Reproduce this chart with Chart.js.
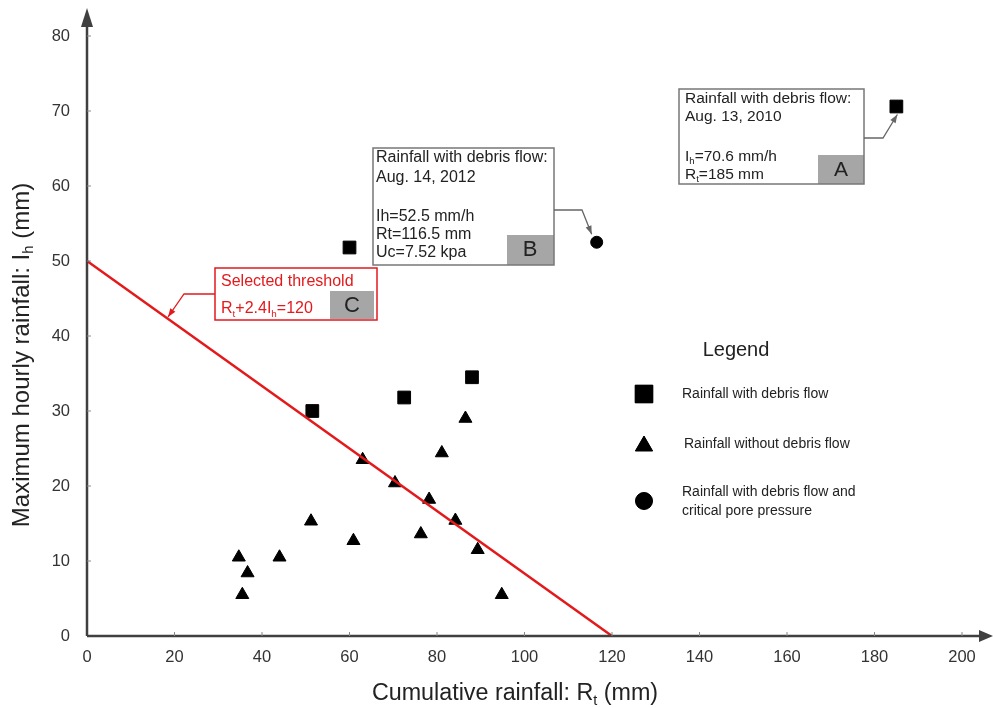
<!DOCTYPE html>
<html>
<head>
<meta charset="utf-8">
<script src="https://cdn.jsdelivr.net/npm/chart.js@4"></script>
<style>
  html, body { margin: 0; padding: 0; background: #fff; }
  #wrap { width: 993px; height: 708px; }
</style>
</head>
<body>
<div id="wrap"><canvas id="myChart"></canvas></div>
<script>
// rainfall events with debris flow (Rt, Ih)
const debrisRt = [185, 60, 51.5, 72.5, 88]
const debrisIh = [70.6, 51.8, 30, 31.8, 34.5]

// rainfall events without debris flow
const noDebrisRt = [86.5, 81.1, 63.0, 70.4, 78.2, 84.2, 51.2, 76.3, 60.9, 89.3, 34.7, 44.0, 36.7, 35.5, 94.8]
const noDebrisIh = [29.0, 24.4, 23.5, 20.4, 18.2, 15.4, 15.3, 13.6, 12.7, 11.5, 10.5, 10.5, 8.4, 5.5, 5.5]

// debris flow with critical pore pressure
const poreRt = [116.5]
const poreIh = [52.5]

// threshold Rt + 2.4Ih = 120
const thresholdRt = [0, 120]
const thresholdIh = [50, 0]

const xTicks = [0, 20, 40, 60, 80, 100, 120, 140, 160, 180, 200]
const yTicks = [0, 10, 20, 30, 40, 50, 60, 70, 80]

function pares(xs, ys){
  return xs.map((x, i) => ({x: x, y: ys[i]}))
}

const FONT = "'Liberation Sans', Arial, sans-serif"
const AXIS = '#404040'
const RED = '#e3191c'

// text with optional subscripts: parts = [[txt, isSub], ...]
function textoRico(ctx, parts, x, y, size, align){
  let total = 0
  parts.forEach(p => {
    ctx.font = (p[1] ? size * 0.62 : size) + 'px ' + FONT
    total += ctx.measureText(p[0]).width
  })
  let cx = align === 'center' ? x - total / 2 : x
  ctx.textAlign = 'left'
  ctx.textBaseline = 'middle'
  parts.forEach(p => {
    ctx.font = (p[1] ? size * 0.62 : size) + 'px ' + FONT
    ctx.fillText(p[0], cx, p[1] ? y + size * 0.3 : y)
    cx += ctx.measureText(p[0]).width
  })
}

function seta(ctx, pts, cor){
  ctx.save()
  ctx.strokeStyle = cor
  ctx.fillStyle = cor
  ctx.lineWidth = 1.3
  ctx.beginPath()
  ctx.moveTo(pts[0][0], pts[0][1])
  for (let i = 1; i < pts.length; i++) ctx.lineTo(pts[i][0], pts[i][1])
  ctx.stroke()
  const a = pts[pts.length - 2], b = pts[pts.length - 1]
  const ang = Math.atan2(b[1] - a[1], b[0] - a[0])
  ctx.beginPath()
  ctx.moveTo(b[0], b[1])
  ctx.lineTo(b[0] - 9 * Math.cos(ang - 0.35), b[1] - 9 * Math.sin(ang - 0.35))
  ctx.lineTo(b[0] - 9 * Math.cos(ang + 0.35), b[1] - 9 * Math.sin(ang + 0.35))
  ctx.closePath()
  ctx.fill()
  ctx.restore()
}

function marcador(ctx, estilo, x, y, r){
  if (Chart.helpers && Chart.helpers.drawPoint){
    ctx.fillStyle = '#000'
    ctx.strokeStyle = '#000'
    ctx.lineWidth = 1
    Chart.helpers.drawPoint(ctx, {pointStyle: estilo, radius: r, rotation: 0, borderWidth: 1}, x, y)
    ctx.fill()
  }
}

const extras = {
  id: 'extras',
  afterDraw(chart){
    const ctx = chart.ctx
    const a = chart.chartArea
    const sx = chart.scales.x, sy = chart.scales.y
    ctx.save()

    // axes with arrows
    ctx.strokeStyle = AXIS
    ctx.fillStyle = AXIS
    ctx.lineWidth = 2.5
    ctx.beginPath()
    ctx.moveTo(a.left, a.bottom)
    ctx.lineTo(982, a.bottom)
    ctx.moveTo(a.left, a.bottom)
    ctx.lineTo(a.left, 22)
    ctx.stroke()
    ctx.beginPath()
    ctx.moveTo(993, a.bottom)
    ctx.lineTo(979, a.bottom - 6)
    ctx.lineTo(979, a.bottom + 6)
    ctx.closePath()
    ctx.fill()
    ctx.beginPath()
    ctx.moveTo(a.left, 8)
    ctx.lineTo(a.left - 6, 27)
    ctx.lineTo(a.left + 6, 27)
    ctx.closePath()
    ctx.fill()

    // small inner tick marks
    ctx.strokeStyle = '#888'
    ctx.lineWidth = 1
    ctx.beginPath()
    xTicks.forEach(v => { const px = sx.getPixelForValue(v); if (v > 0){ ctx.moveTo(px, a.bottom); ctx.lineTo(px, a.bottom - 4) } })
    yTicks.forEach(v => { const py = sy.getPixelForValue(v); if (v > 0){ ctx.moveTo(a.left, py); ctx.lineTo(a.left + 4, py) } })
    ctx.stroke()

    // axis titles
    ctx.fillStyle = '#222'
    textoRico(ctx, [['Cumulative rainfall: R', false], ['t', true], [' (mm)', false]], 515, 694, 23.3, 'center')
    ctx.save()
    ctx.translate(22, 355)
    ctx.rotate(-Math.PI / 2)
    textoRico(ctx, [['Maximum hourly rainfall: I', false], ['h', true], [' (mm)', false]], 0, 0, 24, 'center')
    ctx.restore()

    // box A
    ctx.lineWidth = 1.5
    ctx.strokeStyle = '#777'
    ctx.fillStyle = '#a6a6a6'
    ctx.fillRect(818, 155, 46, 29)
    ctx.strokeRect(679, 89, 185, 95)
    ctx.fillStyle = '#222'
    textoRico(ctx, [['Rainfall with debris flow:', false]], 685, 99, 15.5)
    textoRico(ctx, [['Aug. 13, 2010', false]], 685, 117, 15.5)
    textoRico(ctx, [['I', false], ['h', true], ['=70.6 mm/h', false]], 685, 157, 15.5)
    textoRico(ctx, [['R', false], ['t', true], ['=185 mm', false]], 685, 175, 15.5)
    textoRico(ctx, [['A', false]], 841, 170, 21, 'center')
    const pA = [sx.getPixelForValue(debrisRt[0]), sy.getPixelForValue(debrisIh[0])]
    seta(ctx, [[864, 138], [883, 138], [pA[0] + 1, pA[1] + 8]], '#666')

    // box B
    ctx.lineWidth = 1.5
    ctx.strokeStyle = '#777'
    ctx.fillStyle = '#a6a6a6'
    ctx.fillRect(507, 235, 47, 30)
    ctx.strokeRect(373, 148, 181, 117)
    ctx.fillStyle = '#222'
    textoRico(ctx, [['Rainfall with debris flow:', false]], 376, 158, 16)
    textoRico(ctx, [['Aug. 14, 2012', false]], 376, 178, 16)
    textoRico(ctx, [['Ih=52.5 mm/h', false]], 376, 217, 16)
    textoRico(ctx, [['Rt=116.5 mm', false]], 376, 235, 16)
    textoRico(ctx, [['Uc=7.52 kpa', false]], 376, 253, 16)
    textoRico(ctx, [['B', false]], 530, 250, 22, 'center')
    const pB = [sx.getPixelForValue(poreRt[0]), sy.getPixelForValue(poreIh[0])]
    seta(ctx, [[554, 210], [582, 210], [pB[0] - 5, pB[1] - 8]], '#666')

    // box C
    ctx.strokeStyle = RED
    ctx.fillStyle = '#a6a6a6'
    ctx.fillRect(330, 291, 44, 28)
    ctx.strokeRect(215, 268, 162, 52)
    ctx.fillStyle = RED
    textoRico(ctx, [['Selected threshold', false]], 221, 282, 16)
    textoRico(ctx, [['R', false], ['t', true], ['+2.4I', false], ['h', true], ['=120', false]], 221, 309, 16)
    ctx.fillStyle = '#222'
    textoRico(ctx, [['C', false]], 352, 306, 22, 'center')
    seta(ctx, [[215, 294], [184, 294], [168, 317]], RED)

    // legend
    ctx.fillStyle = '#222'
    textoRico(ctx, [['Legend', false]], 736, 350, 20, 'center')
    marcador(ctx, 'rect', 644, 394, 12.5)
    marcador(ctx, 'triangle', 644, 446, 10)
    marcador(ctx, 'circle', 644, 501, 8.5)
    ctx.fillStyle = '#222'
    textoRico(ctx, [['Rainfall with debris flow', false]], 682, 394, 14)
    textoRico(ctx, [['Rainfall without debris flow', false]], 684, 444, 14)
    textoRico(ctx, [['Rainfall with debris flow and', false]], 682, 492, 14)
    textoRico(ctx, [['critical pore pressure', false]], 682, 511, 14)

    ctx.restore()
  }
}

const ctx = document.getElementById('myChart')

const data = {
  datasets: [
    {
      type: 'line',
      label: 'Selected threshold',
      data: pares(thresholdRt, thresholdIh),
      borderColor: RED,
      borderWidth: 2.5,
      pointRadius: 0,
      fill: false
    },
    {
      label: 'Rainfall with debris flow',
      data: pares(debrisRt, debrisIh),
      pointStyle: 'rect',
      pointRadius: 9,
      backgroundColor: '#000',
      borderColor: '#000'
    },
    {
      label: 'Rainfall without debris flow',
      data: pares(noDebrisRt, noDebrisIh),
      pointStyle: 'triangle',
      pointRadius: 7.5,
      backgroundColor: '#000',
      borderColor: '#000'
    },
    {
      label: 'Rainfall with debris flow and critical pore pressure',
      data: pares(poreRt, poreIh),
      pointStyle: 'circle',
      pointRadius: 6,
      backgroundColor: '#000',
      borderColor: '#000'
    }
  ]
}

const config = {
  type: 'scatter',
  data: data,
  options: {
    responsive: true,
    maintainAspectRatio: false,
    animation: false,
    layout: { padding: { left: 0, right: 31, top: 36, bottom: 0 } },
    plugins: {
      legend: { display: false },
      tooltip: { enabled: false }
    },
    scales: {
      x: {
        type: 'linear',
        min: 0,
        max: 200,
        grid: { display: false, drawTicks: false },
        border: { display: false },
        afterFit: s => { s.height = 72 },
        afterBuildTicks: s => { s.ticks = xTicks.map(v => ({value: v})) },
        ticks: { padding: 12, color: '#333', font: { family: FONT, size: 16.5 }, maxRotation: 0 }
      },
      y: {
        type: 'linear',
        min: 0,
        max: 80,
        grid: { display: false, drawTicks: false },
        border: { display: false },
        afterFit: s => { s.width = 87 },
        afterBuildTicks: s => { s.ticks = yTicks.map(v => ({value: v})) },
        ticks: { padding: 17, color: '#333', font: { family: FONT, size: 16.5 } }
      }
    }
  },
  plugins: [extras]
}

const myChart = new Chart(ctx, config)
</script>
</body>
</html>
